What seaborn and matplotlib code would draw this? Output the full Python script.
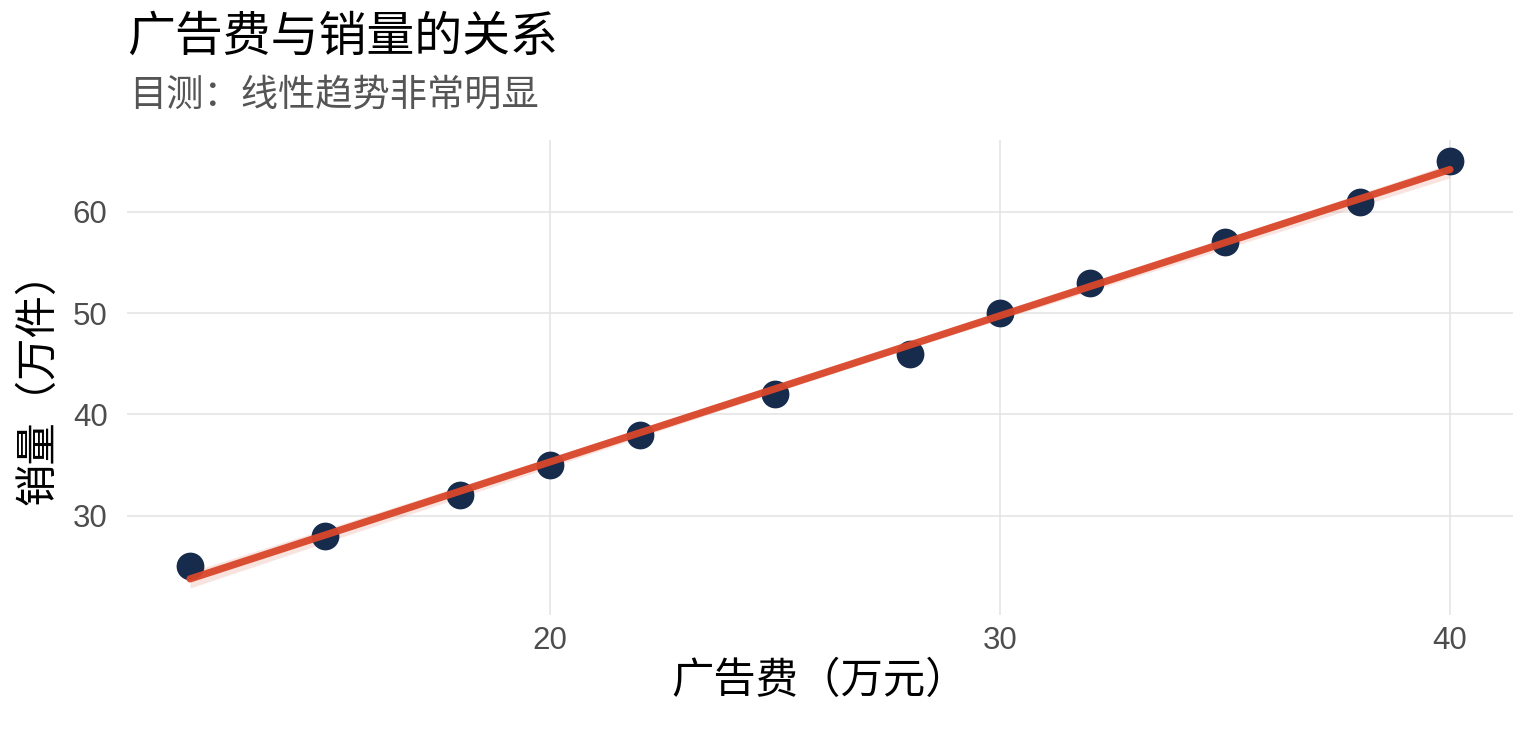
import matplotlib
matplotlib.use("Agg")
import matplotlib.pyplot as plt
import seaborn as sns
import pandas as pd

# data
ad_spend = [12, 15, 18, 20, 22, 25, 28, 30, 32, 35, 38, 40]
sales = [25, 28, 32, 35, 38, 42, 46, 50, 53, 57, 61, 65]

x_ticks = [20, 30, 40]
y_ticks = [30, 40, 50, 60]

title = "广告费与销量的关系"
subtitle = "目测：线性趋势非常明显"
x_label = "广告费（万元）"
y_label = "销量（万件）"

df = pd.DataFrame({"ad": ad_spend, "sales": sales})

sns.set_theme(style="white")
plt.rcParams['font.family'] = ['Liberation Sans', 'Noto Sans CJK SC']

fig = plt.figure(figsize=(15.36, 7.29), dpi=100)
ax = fig.add_axes([0.0827, 0.1564, 0.9023, 0.6516])

sns.regplot(data=df, x="ad", y="sales", ax=ax, ci=95,
            scatter_kws=dict(s=400, color="#172B4D", alpha=1, linewidths=0, zorder=3),
            line_kws=dict(color="#D9472B", lw=5.2, alpha=0.95, zorder=4))

ax.set_xlim(10.6, 41.4)
ax.set_ylim(20.2, 67.1)
ax.set_xticks(x_ticks)
ax.set_yticks(y_ticks)
ax.grid(True, color="#E3E3E3", lw=1.1)
ax.set_axisbelow(True)
for s in ax.spines.values():
    s.set_visible(False)
ax.tick_params(axis="both", length=0, labelsize=22.5, labelcolor="#4D4D4D")
ax.tick_params(axis="x", pad=8)
ax.tick_params(axis="y", pad=14)

ax.set_xlabel(x_label, fontsize=30.5, color="black", labelpad=4)
ax.set_ylabel(y_label, fontsize=30.5, color="black", labelpad=10)

fig.text(0.083, 0.947, title, fontsize=34.5, color="black", ha="left", va="center")
fig.text(0.084, 0.868, subtitle, fontsize=26.8, color="#555555", ha="left", va="center")

fig.savefig("out.png", dpi=100)
